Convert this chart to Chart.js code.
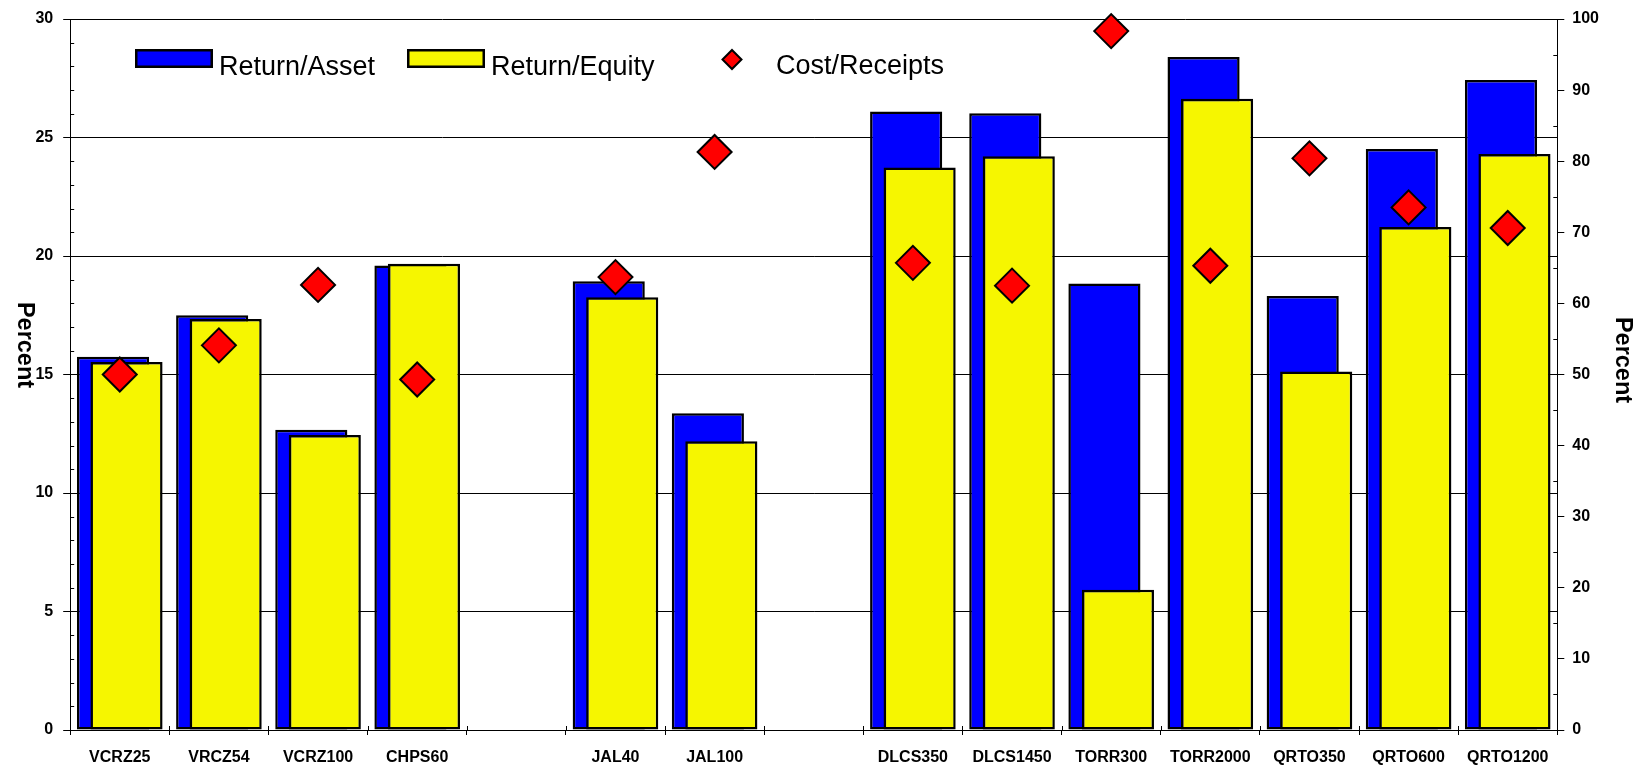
<!DOCTYPE html>
<html>
<head>
<meta charset="utf-8">
<title>Return and cost ratios</title>
<script src="https://cdn.jsdelivr.net/npm/chart.js@4.4.1/dist/chart.umd.min.js"></script>
<style>
  html, body { margin: 0; padding: 0; background: #fff; }
  #wrap { width: 1646px; height: 770px; }
</style>
</head>
<body>
<div id="wrap"><canvas id="grafico" width="1646" height="770"></canvas></div>
<script>
// categories (blank slots separate the groups)
const categorias = ['VCRZ25', 'VRCZ54', 'VCRZ100', 'CHPS60', '', 'JAL40', 'JAL100', '',
    'DLCS350', 'DLCS1450', 'TORR300', 'TORR2000', 'QRTO350', 'QRTO600', 'QRTO1200'];

// percent, left axis
const returnAsset = [15.75, 17.5, 12.67, 19.6, null, 18.93, 13.37, null,
    26.1, 26.02, 18.84, 28.4, 18.31, 24.52, 27.43];
const returnEquity = [15.53, 17.34, 12.45, 19.67, null, 18.26, 12.18, null,
    23.73, 24.21, 5.92, 26.64, 15.13, 21.22, 24.3];

// percent, right axis
const costReceipts = [50.0, 54.1, 62.6, 49.3, null, 63.7, 81.3, null,
    65.7, 62.5, 98.3, 65.3, 80.4, 73.5, 70.6];

const ticksIzq = { min: 0, max: 30, step: 5 };
const ticksDer = { min: 0, max: 100, step: 10 };

const fuente = "'Liberation Sans', Arial, sans-serif";
const fuenteEje = { family: fuente, size: 16, weight: 'bold' };

// draw datasets in their own order so the right-hand bar sits on top
const ordenDibujo = {
    id: 'ordenDibujo',
    beforeDatasetsDraw(chart) {
        chart.getSortedVisibleDatasetMetas().forEach(meta => meta.controller.draw());
        return false;
    }
};

// minor ticks, small marks above the category axis and the two axis titles
const marcasEje = {
    id: 'marcasEje',
    afterDraw(chart) {
        const { ctx, scales: { x, y, y2 } } = chart;
        ctx.save();
        ctx.strokeStyle = '#000';
        ctx.lineWidth = 1;
        ctx.beginPath();
        for (let v = ticksIzq.min; v <= ticksIzq.max; v++) {
            if (v % ticksIzq.step === 0) continue;
            const py = Math.round(y.getPixelForValue(v)) + 0.5;
            ctx.moveTo(y.right, py);
            ctx.lineTo(y.right + 4, py);
        }
        for (let v = ticksDer.min + ticksDer.step / 2; v < ticksDer.max; v += ticksDer.step) {
            const py = Math.round(y2.getPixelForValue(v)) + 0.5;
            ctx.moveTo(y2.left - 4, py);
            ctx.lineTo(y2.left, py);
        }
        for (let i = 0; i <= categorias.length; i++) {
            const px = Math.round(x.getPixelForValue(i - 0.5)) + 0.5;
            ctx.moveTo(px, x.top - 4);
            ctx.lineTo(px, x.top);
        }
        ctx.stroke();

        ctx.fillStyle = '#000';
        ctx.font = 'bold 23.5px ' + fuente;
        ctx.textAlign = 'center';
        ctx.textBaseline = 'middle';
        [[24, 345], [1622, 360]].forEach(([tx, ty]) => {
            ctx.save();
            ctx.translate(tx, ty);
            ctx.rotate(Math.PI / 2);
            ctx.fillText('Percent', 0, 0);
            ctx.restore();
        });
        ctx.restore();
    }
};

// legend inside the plot, top left
const leyenda = {
    id: 'leyenda',
    afterDraw(chart) {
        const ctx = chart.ctx;
        const ds = chart.data.datasets;
        ctx.save();
        ctx.font = '27px ' + fuente;
        ctx.fillStyle = '#000';
        ctx.textAlign = 'left';
        ctx.textBaseline = 'alphabetic';
        ctx.lineWidth = 2.5;
        ctx.strokeStyle = '#000';

        const cajas = [[135, 0], [407, 1]];
        cajas.forEach(([lx, i]) => {
            ctx.fillStyle = ds[i].backgroundColor;
            ctx.fillRect(lx, 49, 78, 19);
            ctx.strokeRect(lx + 1.25, 50.25, 75.5, 16.5);
            ctx.fillStyle = '#000';
            ctx.fillText(ds[i].label, lx + 84, 75);
        });

        const cx = 732, cy = 59.5, r = 9.5;
        ctx.lineWidth = 2;
        ctx.beginPath();
        ctx.moveTo(cx, cy - r);
        ctx.lineTo(cx + r, cy);
        ctx.lineTo(cx, cy + r);
        ctx.lineTo(cx - r, cy);
        ctx.closePath();
        ctx.fillStyle = ds[2].backgroundColor;
        ctx.fill();
        ctx.stroke();
        ctx.fillStyle = '#000';
        ctx.fillText(ds[2].label, 776, 74);
        ctx.restore();
    }
};

// fixed axis widths, and no extra room reserved for the end labels
const anchoFijo = ancho => s => {
    s.width = ancho;
    s.paddingTop = 0;
    s.paddingBottom = 0;
};

const ctx = document.getElementById('grafico').getContext('2d');

const grafico = new Chart(ctx, {
    type: 'bar',
    data: {
        labels: categorias,
        datasets: [
            {
                label: 'Return/Asset',
                data: returnAsset,
                backgroundColor: '#0000ff',
                borderColor: '#000',
                borderWidth: 2.5,
                borderSkipped: false,
                yAxisID: 'y'
            },
            {
                label: 'Return/Equity',
                data: returnEquity,
                backgroundColor: '#f6f600',
                borderColor: '#000',
                borderWidth: 2.5,
                borderSkipped: false,
                yAxisID: 'y'
            },
            {
                type: 'line',
                label: 'Cost/Receipts',
                data: costReceipts,
                showLine: false,
                pointStyle: 'rectRot',
                pointRadius: 17,
                pointHoverRadius: 17,
                pointBorderWidth: 2,
                backgroundColor: '#ff0000',
                borderColor: '#000',
                yAxisID: 'y2'
            }
        ]
    },
    options: {
        responsive: false,
        animation: false,
        categoryPercentage: 0.272,
        barPercentage: 5.35,
        layout: { padding: { top: 15.5, left: 0, right: 0, bottom: 0 } },
        plugins: {
            legend: { display: false },
            tooltip: { enabled: false }
        },
        scales: {
            x: {
                type: 'category',
                offset: true,
                grid: { offset: true, drawOnChartArea: false, tickLength: 5, color: '#000' },
                border: { color: '#000', width: 1 },
                ticks: { color: '#000', font: fuenteEje, autoSkip: false, maxRotation: 0, padding: 13 },
                afterFit: s => { s.height = 40; }
            },
            y: {
                position: 'left',
                min: ticksIzq.min,
                max: ticksIzq.max,
                ticks: { stepSize: ticksIzq.step, color: '#000', font: fuenteEje, padding: 10 },
                grid: { color: '#000', lineWidth: 1, tickLength: 7 },
                border: { color: '#000', width: 1 },
                afterFit: anchoFijo(70.2)
            },
            y2: {
                position: 'right',
                min: ticksDer.min,
                max: ticksDer.max,
                ticks: { stepSize: ticksDer.step, color: '#000', font: fuenteEje, padding: 8 },
                grid: { drawOnChartArea: false, color: '#000', tickLength: 7 },
                border: { color: '#000', width: 1 },
                afterFit: anchoFijo(88.7)
            }
        }
    },
    plugins: [ordenDibujo, marcasEje, leyenda]
});
</script>
</body>
</html>
